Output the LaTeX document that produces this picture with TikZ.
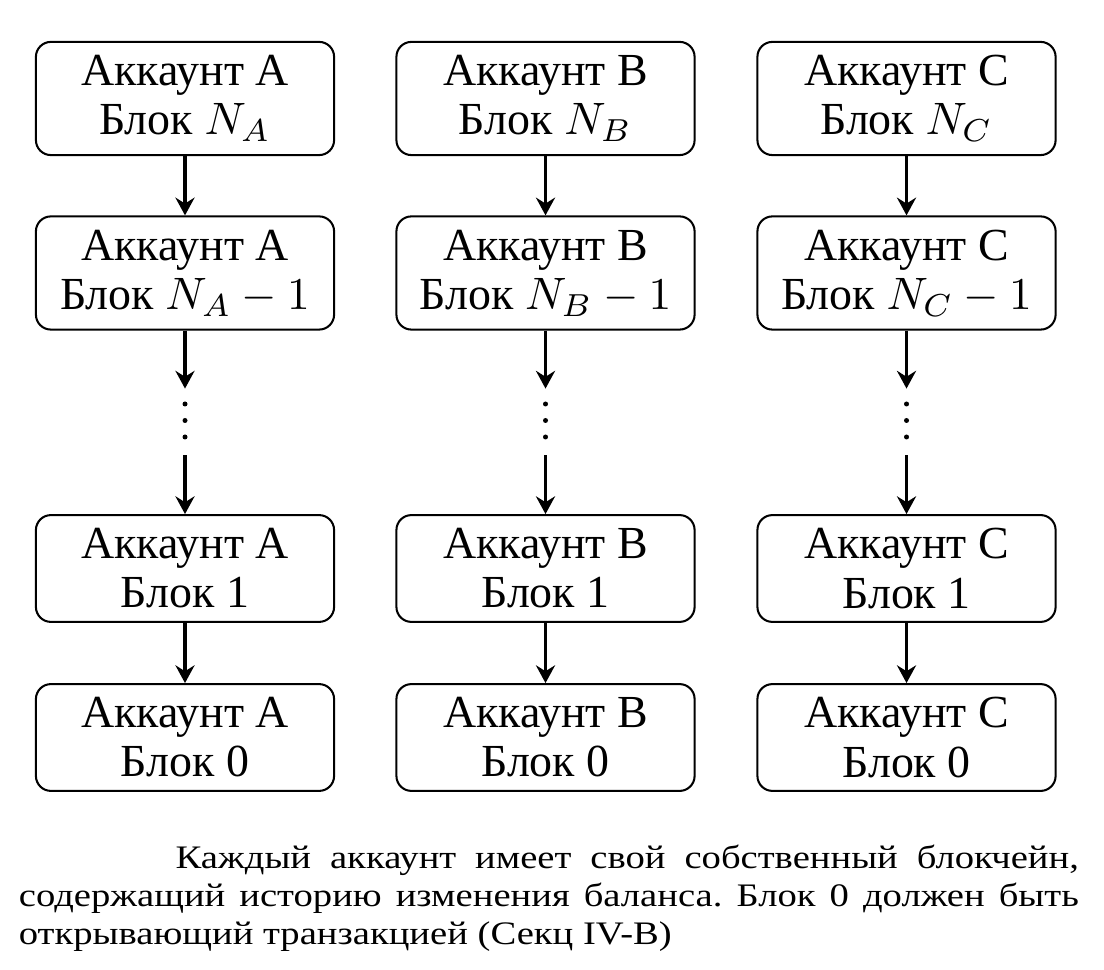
\documentclass[tikz,border=0pt]{standalone}
\usepackage{fontspec}
\setmainfont{Liberation Serif}
\usetikzlibrary{arrows.meta}
\frenchspacing
\begin{document}
\begin{tikzpicture}[x=0.22pt,y=-0.22pt,
  acct/.style={draw, line width=0.45pt, rounded corners=3.3pt, minimum width=65.6pt,
    align=center, inner sep=0pt, font=\fontsize{10.1}{10.8}\selectfont},
  tallbox/.style={acct, minimum height=24.9pt},
  shortbox/.style={acct, minimum height=23.5pt},
  arr/.style={-{Stealth[length=3.9pt,width=4.2pt,inset=1.3pt]}, line width=0.8pt},
  gapnode/.style={inner sep=0pt, minimum width=4pt, minimum height=14.3pt},
  dotmark/.style={fill=black}]
\useasboundingbox (0,0) rectangle (1104,970);
\foreach \c/\x/\L in {a/185/A, b/545.5/B, c/906.5/C}{
  \node[tallbox]  (\c1) at (\x,98.5)  {Аккаунт \L\\Блок $N_\L$};
  \node[tallbox]  (\c2) at (\x,273)   {Аккаунт \L\\Блок $N_\L-1$};
  \node[gapnode]  (\c d) at (\x,422)  {};
  \node[shortbox] (\c3) at (\x,568.5) {Аккаунт \L\\Блок 1};
  \node[shortbox] (\c4) at (\x,737.5) {Аккаунт \L\\Блок 0};
  \fill[dotmark] (\x,404) circle[radius=2.5];
  \fill[dotmark] (\x,420.5) circle[radius=2.5];
  \fill[dotmark] (\x,437) circle[radius=2.5];
  \draw[arr] (\c1.south) -- (\c2.north);
  \draw[arr] (\c2.south) -- (\c d.north);
  \draw[arr] (\c d.south) -- (\c3.north);
  \draw[arr] (\c3.south) -- (\c4.north);
}
\node[anchor=base west, inner sep=0pt] (cap) at (18,868) {\scalebox{1}[0.85]{\parbox[t]{233.2pt}{\fontsize{8.5}{9.96}\selectfont\frenchspacing\parindent=34.5pt\indent Каждый аккаунт имеет свой собственный блокчейн,\linebreak содержащий историю изменения баланса. Блок 0 должен быть\linebreak открывающий транзакцией (Секц IV-B)}}};
\end{tikzpicture}
\end{document}
